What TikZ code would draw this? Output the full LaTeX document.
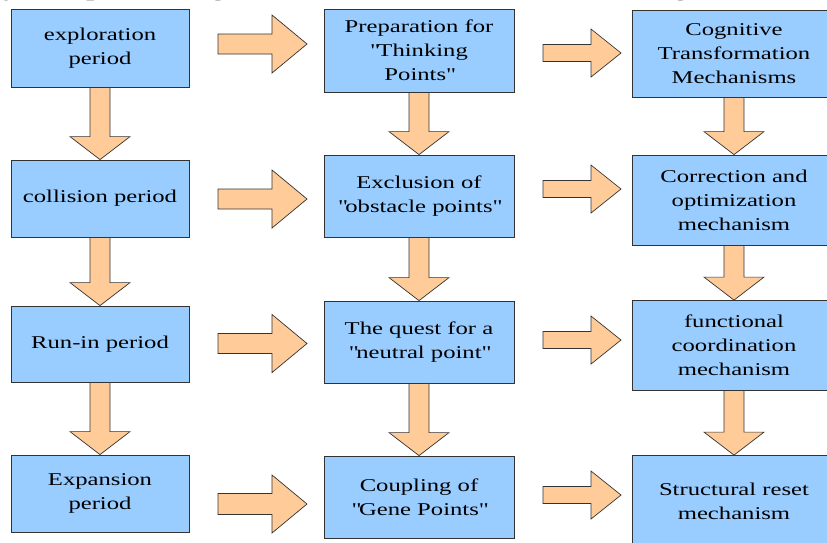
\documentclass[tikz,border=0pt]{standalone}
\usepackage{fontspec}
\setmainfont[FakeStretch=1.37]{Liberation Serif}
\usetikzlibrary{calc}
\definecolor{boxblue}{HTML}{99CCFF}
\definecolor{arrowpeach}{HTML}{FFCC99}
\definecolor{edgegray}{HTML}{333333}
\tikzset{
  box/.style={draw=edgegray, fill=boxblue, line width=0.8pt, align=center,
    inner sep=0pt, font=\fontsize{18}{24}\selectfont, text=black},
  barrow/.style={draw=edgegray, fill=arrowpeach, line width=0.7pt, line join=miter},
  toptext/.style={anchor=base west, inner sep=0pt, font=\fontsize{24.5}{28}\selectfont}
}
\newcommand{\q}{\textquotedbl}
% vertical block arrow from node #1 down to node #2
\newcommand{\vblock}[2]{%
  \draw[barrow] ($(#1.south)+(-10,0)$) -- ($(#2.north)+(-10,-23)$) -- ($(#2.north)+(-30,-23)$)
    -- (#2.north) -- ($(#2.north)+(30,-23)$) -- ($(#2.north)+(10,-23)$) -- ($(#1.south)+(10,0)$) -- cycle;}
% horizontal block arrow: start x, head x, tip x, centre y, shaft half, head half
\newcommand{\hblock}[6]{%
  \draw[barrow] (#1,#4-#5) -- (#2,#4-#5) -- (#2,#4-#6) -- (#3,#4) -- (#2,#4+#6) -- (#2,#4+#5) -- (#1,#4+#5) -- cycle;}
\begin{document}
\begin{tikzpicture}[x=1pt,y=-1pt]
\useasboundingbox (0,0) rectangle (827,542);
\clip (0,0) rectangle (827,542);
\fill[white] (0,0) rectangle (827,542);

\node[toptext] (cap) at (3,-5) {y complete integration framework, as shown in Figure 3.};

% column 1
\node[box, minimum width=178pt, minimum height=78pt] (a1) at (100,48) {exploration\\period};
\node[box, minimum width=178pt, minimum height=77pt] (a2) at (100,198.5) {collision period};
\node[box, minimum width=178pt, minimum height=76pt] (a3) at (100,344) {Run-in period};
\node[box, minimum width=178pt, minimum height=77pt] (a4) at (100,493.5) {Expansion\\period};

% column 2
\node[box, minimum width=190pt, minimum height=83pt] (b1) at (419,50.5) {Preparation for\\\q Thinking\\Points\q};
\node[box, minimum width=190pt, minimum height=82pt] (b2) at (419,196) {Exclusion of\\\q obstacle points\q};
\node[box, minimum width=190pt, minimum height=82pt] (b3) at (419,342) {The quest for a\\\q neutral point\q};
\node[box, minimum width=190pt, minimum height=82pt] (b4) at (419,497) {Coupling of\\\q Gene Points\q};

% column 3
\node[box, minimum width=204pt, minimum height=87pt] (c1) at (734,53.5) {Cognitive\\Transformation\\Mechanisms};
\node[box, minimum width=204pt, minimum height=90pt] (c2) at (734,200) {Correction and\\optimization\\mechanism};
\node[box, minimum width=204pt, minimum height=89.5pt] (c3) at (734,345.25) {functional\\coordination\\mechanism};
\node[box, minimum width=204pt, minimum height=91pt] (c4) at (734,501) {Structural reset\\mechanism};

% vertical arrows
\vblock{a1}{a2}
\vblock{a2}{a3}
\vblock{a3}{a4}
\vblock{b1}{b2}
\vblock{b2}{b3}
\vblock{b3}{b4}
\vblock{c1}{c2}
\vblock{c2}{c3}
\vblock{c3}{c4}

% horizontal arrows, column 1 to column 2
\hblock{218}{272}{307}{44}{10}{29}
\hblock{218}{272}{307}{199}{10}{29}
\hblock{218}{272}{307}{343.5}{10}{29}
\hblock{218}{272}{307}{504}{10.5}{29}

% horizontal arrows, column 2 to column 3
\hblock{543}{591}{621}{53}{8.5}{24}
\hblock{543}{591}{621}{189}{8.5}{24}
\hblock{543}{591}{621}{340}{8.5}{24}
\hblock{543}{591}{621}{495}{8.5}{24}
\end{tikzpicture}
\end{document}
